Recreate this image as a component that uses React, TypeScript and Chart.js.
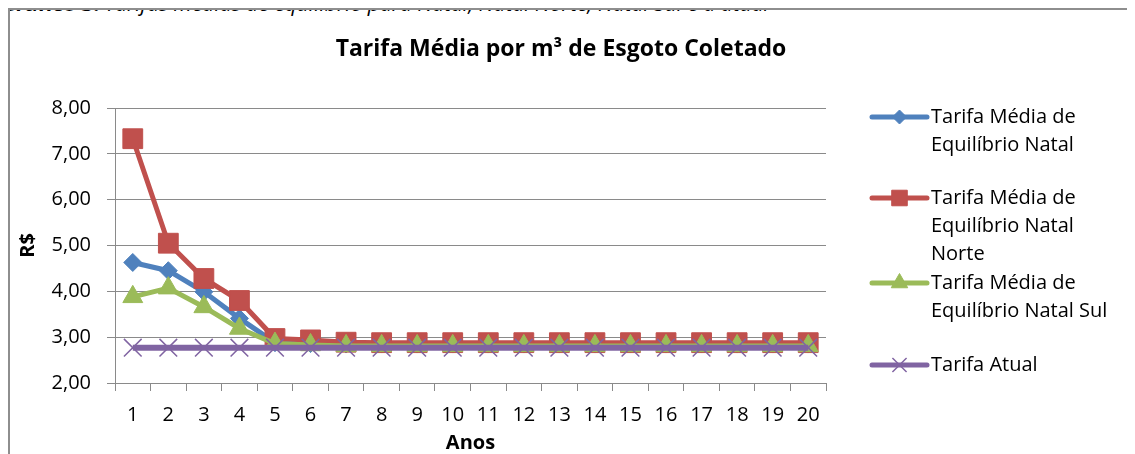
import React, { useEffect, useRef } from "react";
import { Chart, registerables } from "chart.js";
import { drawPoint } from "chart.js/helpers";

Chart.register(...registerables);

// Years of the projection
const anos = ["1", "2", "3", "4", "5", "6", "7", "8", "9", "10", "11", "12", "13", "14", "15", "16", "17", "18", "19", "20"];

// Average tariff per m³ (R$)
const tarifaNatal = [4.63, 4.45, 3.99, 3.41, 2.88, 2.86, 2.85, 2.85, 2.85, 2.85, 2.85, 2.85, 2.85, 2.85, 2.85, 2.85, 2.85, 2.85, 2.85, 2.85];
const tarifaNatalNorte = [7.33, 5.05, 4.28, 3.8, 2.97, 2.94, 2.89, 2.88, 2.88, 2.88, 2.88, 2.88, 2.88, 2.88, 2.88, 2.88, 2.88, 2.88, 2.88, 2.88];
const tarifaNatalSul = [3.88, 4.07, 3.66, 3.19, 2.86, 2.83, 2.81, 2.81, 2.81, 2.81, 2.81, 2.81, 2.81, 2.81, 2.81, 2.81, 2.81, 2.81, 2.81, 2.81];
const tarifaAtual = [2.77, 2.77, 2.77, 2.77, 2.77, 2.77, 2.77, 2.77, 2.77, 2.77, 2.77, 2.77, 2.77, 2.77, 2.77, 2.77, 2.77, 2.77, 2.77, 2.77];

const seriesLabels = [
  "Tarifa Média de Equilíbrio Natal",
  "Tarifa Média de Equilíbrio Natal Norte",
  "Tarifa Média de Equilíbrio Natal Sul",
  "Tarifa Atual",
];

const yTicks = [2, 3, 4, 5, 6, 7, 8];

const chartTitle = "Tarifa Média por m³ de Esgoto Coletado";
const xTitle = "Anos";
const yTitle = "R$";
const captionBold = "Gráfico 3:";
const captionText = " Tarifas médias de equilíbrio para Natal, Natal Norte, Natal Sul e a atual";

const FONT = '"Open Sans", "Noto Sans", sans-serif';
const GRID = "#8a8a8a";

const colors = ["#4F81BD", "#C0504D", "#9BBB59", "#8064A2"];
const styles = ["rectRot", "rect", "triangle", "crossRot"];
const radii = [9, 14, 11.5, 12.5];
const legendRadii = [7, 11, 9.5, 10];

function wrapText(ctx: CanvasRenderingContext2D, text: string, maxWidth: number): string[] {
  const words = text.split(" ");
  const lines: string[] = [];
  let cur = "";
  for (const w of words) {
    const test = cur ? cur + " " + w : w;
    if (cur && ctx.measureText(test).width > maxWidth) {
      lines.push(cur);
      cur = w;
    } else {
      cur = test;
    }
  }
  if (cur) lines.push(cur);
  return lines;
}

// Draws the chart heading and the legend on the right
const decorations = {
  id: "decorations",
  afterDraw(chart: any) {
    const ctx: CanvasRenderingContext2D = chart.ctx;
    ctx.save();
    ctx.fillStyle = "#000";
    ctx.textBaseline = "middle";
    ctx.textAlign = "center";
    ctx.font = `bold 23px ${FONT}`;
    ctx.fillText(chartTitle, 551, 39);

    const entryY = [107, 188, 273, 355];
    const lineH = 28;
    const lineX0 = 862;
    const lineX1 = 917;
    ctx.font = `20px ${FONT}`;
    ctx.textAlign = "left";
    chart.data.datasets.forEach((ds: any, i: number) => {
      const y = entryY[i];
      ctx.strokeStyle = ds.borderColor;
      ctx.lineWidth = 5;
      ctx.lineCap = "round";
      ctx.beginPath();
      ctx.moveTo(lineX0, y);
      ctx.lineTo(lineX1, y);
      ctx.stroke();
      ctx.fillStyle = ds.pointBackgroundColor;
      ctx.strokeStyle = ds.pointBorderColor;
      ctx.lineWidth = ds.pointBorderWidth;
      ctx.lineCap = "butt";
      drawPoint(ctx, { pointStyle: ds.pointStyle, rotation: 0, radius: legendRadii[i], borderWidth: ds.pointBorderWidth } as any, (lineX0 + lineX1) / 2, y);
      ctx.fillStyle = "#000";
      const lines = wrapText(ctx, ds.label, 190);
      lines.forEach((ln, k) => ctx.fillText(ln, 921, y + k * lineH));
    });
    ctx.restore();
  },
};

export default function App() {
  const ref = useRef<HTMLCanvasElement | null>(null);

  useEffect(() => {
    document.documentElement.style.overflow = "hidden";
    document.body.style.overflow = "hidden";
    if (!ref.current) return;
    const series = [tarifaNatal, tarifaNatalNorte, tarifaNatalSul, tarifaAtual];
    const chart = new Chart(ref.current, {
      type: "line",
      data: {
        labels: anos,
        datasets: series.map((data, i) => ({
          label: seriesLabels[i],
          data,
          borderColor: colors[i],
          backgroundColor: colors[i],
          borderWidth: i === 3 ? 6 : 5,
          pointStyle: styles[i] as any,
          pointRadius: radii[i],
          pointHoverRadius: radii[i],
          pointBackgroundColor: colors[i],
          pointBorderColor: colors[i],
          pointBorderWidth: i === 3 ? 1.5 : 1,
          tension: 0,
          fill: false,
          order: 3 - i,
        })),
      },
      options: {
        responsive: false,
        animation: false,
        devicePixelRatio: 1,
        layout: { padding: { top: 98, right: 309, left: 0, bottom: 0 } },
        plugins: {
          legend: { display: false },
          title: { display: false },
          tooltip: { enabled: false },
        },
        scales: {
          x: {
            type: "category",
            offset: true,
            afterFit: (s: any) => {
              s.height = 71;
            },
            grid: { offset: true, drawOnChartArea: false, drawTicks: true, tickLength: 8, color: GRID, lineWidth: 1 },
            border: { color: GRID, width: 1 },
            ticks: {
              autoSkip: false,
              maxRotation: 0,
              padding: 12,
              color: "#000",
              font: { family: FONT, size: 20 },
            },
            title: {
              display: true,
              text: xTitle,
              color: "#000",
              font: { family: FONT, size: 20, weight: "bold", lineHeight: 1.1 },
              padding: { top: 0, bottom: 0 },
            },
          },
          y: {
            min: yTicks[0],
            max: yTicks[yTicks.length - 1],
            afterFit: (s: any) => {
              s.width = 105;
            },
            afterBuildTicks: (s: any) => {
              s.ticks = yTicks.map((v) => ({ value: v }));
            },
            grid: { drawTicks: true, tickLength: 8, color: GRID, lineWidth: 1 },
            border: { color: GRID, width: 1 },
            ticks: {
              padding: 16,
              color: "#000",
              font: { family: FONT, size: 20 },
              callback: (v: any) => Number(v).toFixed(2).replace(".", ","),
            },
            title: {
              display: true,
              text: yTitle,
              color: "#000",
              font: { family: FONT, size: 20, weight: "bold", lineHeight: 1.1 },
              padding: { top: 7, bottom: 0 },
            },
          },
        },
      },
      plugins: [decorations],
    });
    return () => chart.destroy();
  }, []);

  return (
    <div style={{ position: "relative", width: 1127, height: 446 }}>
      <div
        style={{
          position: "absolute",
          left: -8,
          top: -15,
          whiteSpace: "nowrap",
          fontFamily: FONT,
          fontSize: 21,
          lineHeight: "20px",
          color: "#000",
        }}
      >
        <b>{captionBold}</b>
        <i>{captionText}</i>
      </div>
      <div
        style={{
          position: "absolute",
          left: 0,
          top: 0,
          width: 1127,
          height: 446,
          boxSizing: "border-box",
          borderLeft: "2px solid #8e8e8e",
          borderTop: "2px solid #8e8e8e",
          overflow: "hidden",
        }}
      >
        <canvas ref={ref} width={1125} height={444} style={{ display: "block", width: 1125, height: 444 }} />
      </div>
    </div>
  );
}
